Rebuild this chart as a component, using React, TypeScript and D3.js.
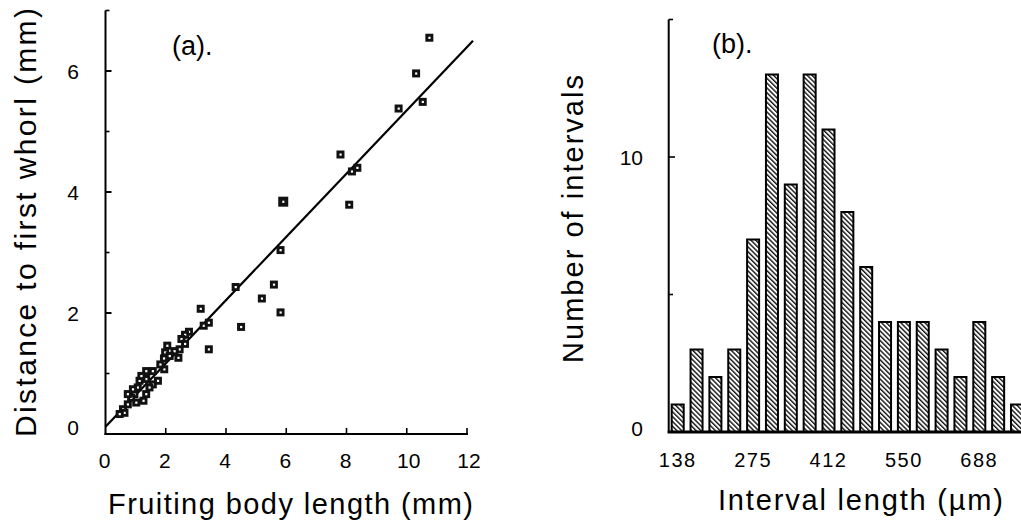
import React from "react";
import * as d3 from "d3";

// ---------- Panel (a) data ----------
const fruitingLength = [10.75, 10.31, 10.53, 9.73, 7.8, 8.18, 8.36, 8.09, 5.9, 5.81, 4.32, 5.59, 5.19, 5.81, 4.5, 3.16, 3.43, 3.26, 3.43, 2.77, 2.64, 2.52, 2.64, 2.46, 2.42, 2.29, 2.05, 1.98, 2.13, 1.94, 1.95, 1.82, 1.74, 1.57, 1.57, 1.35, 1.35, 1.35, 1.26, 1.13, 1.07, 1.02, 0.96, 0.85, 0.74, 0.74, 0.58, 0.63, 0.47, 1.19, 0.91, 1.46];
const whorlDistance = [6.55, 5.96, 5.49, 5.38, 4.62, 4.34, 4.4, 3.79, 3.84, 3.04, 2.43, 2.47, 2.24, 2.01, 1.77, 2.07, 1.4, 1.79, 1.84, 1.69, 1.64, 1.57, 1.49, 1.4, 1.26, 1.37, 1.46, 1.35, 1.29, 1.25, 1.07, 1.15, 0.88, 1.04, 0.82, 1.04, 0.91, 0.66, 0.55, 0.88, 0.77, 0.52, 0.66, 0.6, 0.66, 0.49, 0.41, 0.35, 0.33, 0.96, 0.74, 0.77];
const largeMarkers = [8];
const fitX = [0, 12.2];
const fitY = [0.12, 6.5];
const aXTicks = [0, 2, 4, 6, 8, 10, 12];
const aYTicks = [0, 2, 4, 6];
const aYMinor = [1, 3, 5, 7];

// ---------- Panel (b) data ----------
const intervalCounts = [1, 3, 2, 3, 7, 13, 9, 13, 11, 8, 6, 4, 4, 4, 3, 2, 4, 2, 1];
const binLabelIndex = [0, 4, 8, 12, 16];
const binLabels = ["138", "275", "412", "550", "688"];
const bYTicks = [0, 10];
const bYMinor = [5, 15];

const FONT = "'Liberation Sans', Arial, Helvetica, sans-serif";

export default function App() {
  // Panel (a) scales
  const ax = d3.scaleLinear().domain([0, 12]).range([105.5, 467]);
  const ay = d3.scaleLinear().domain([0, 7]).range([434, 10.5]);
  const fitLine = d3
    .line<number>()
    .x((d, i) => ax(fitX[i]))
    .y((d) => ay(d));

  // Panel (b) scales
  const idx = intervalCounts.map((_, i) => i);
  const bx = d3
    .scaleBand<number>()
    .domain(idx)
    .range([671.7, 1023])
    .paddingInner(0.363)
    .paddingOuter(0);
  const by = d3.scaleLinear().domain([0, 15]).range([432, 19.5]);

  return (
    <svg
      width={1021}
      height={524}
      style={{ position: "absolute", left: 0, top: 0, background: "#fff" }}
      fontFamily={FONT}
    >
      <defs>
        <pattern
          id="hatch"
          patternUnits="userSpaceOnUse"
          width={3.4}
          height={3.4}
          patternTransform="rotate(-45)"
        >
          <rect width={3.4} height={3.4} fill="#fff" />
          <line x1={0.7} y1={0} x2={0.7} y2={3.4} stroke="#111" strokeWidth={1.4} />
        </pattern>
        <clipPath id="pageClip">
          <rect x={0} y={0} width={1021} height={524} />
        </clipPath>
      </defs>

      {/* ================= Panel (a) ================= */}
      <g>
        <line x1={ax(0)} y1={ay(7)} x2={ax(0)} y2={ay(0) + 1} stroke="#000" strokeWidth={2} />
        <line x1={ax(0) - 1} y1={ay(0)} x2={ax(12) + 1} y2={ay(0)} stroke="#000" strokeWidth={2} />
        {aYTicks.map((t) => (
          <g key={"ay" + t}>
            {t > 0 && (
              <line x1={ax(0)} x2={ax(0) + 6} y1={ay(t)} y2={ay(t)} stroke="#000" strokeWidth={2} />
            )}
            <text
              x={79}
              y={ay(t) - (t === 0 ? 7 : 0)}
              dy="0.36em"
              textAnchor="end"
              fontSize={21}
              fill="#000"
            >
              {t}
            </text>
          </g>
        ))}
        {aYMinor.map((t) => (
          <line key={"aym" + t} x1={ax(0)} x2={ax(0) + 4} y1={ay(t)} y2={ay(t)} stroke="#000" strokeWidth={1.6} />
        ))}
        {aXTicks.map((t) => (
          <g key={"ax" + t}>
            {t > 0 && (
              <line x1={ax(t)} x2={ax(t)} y1={ay(0)} y2={ay(0) - 6} stroke="#000" strokeWidth={1.6} />
            )}
            <text x={ax(t) + (t >= 10 ? 2 : -1)} y={468} textAnchor="middle" fontSize={21} fill="#000">
              {t}
            </text>
          </g>
        ))}

        <path d={fitLine(fitY) || ""} fill="none" stroke="#000" strokeWidth={2.2} />

        {fruitingLength.map((xv, i) => {
          const s = largeMarkers.includes(i) ? 10 : 8;
          const cx = ax(xv);
          const cy = ay(whorlDistance[i]);
          return (
            <g key={"p" + i}>
              <rect x={cx - s / 2} y={cy - s / 2} width={s} height={s} fill="#111" />
              <rect x={cx - 1} y={cy - 1} width={2.2} height={2.2} fill="#fff" />
            </g>
          );
        })}

        <text x={172} y={55} fontSize={27} fill="#000">
          (a).
        </text>
        <text
          transform={`translate(36,${222.5}) rotate(-90)`}
          textAnchor="middle"
          fontSize={30}
          textLength={429}
          lengthAdjust="spacing"
          fill="#000"
        >
          Distance to first whorl (mm)
        </text>
        <text x={108} y={514} fontSize={29} textLength={365} lengthAdjust="spacing" fill="#000">
          Fruiting body length (mm)
        </text>
      </g>

      {/* ================= Panel (b) ================= */}
      <g clipPath="url(#pageClip)">
        {intervalCounts.map((c, i) => (
          <rect
            key={"b" + i}
            x={bx(i)!}
            y={by(c)}
            width={bx.bandwidth()}
            height={by(0) - by(c)}
            fill="url(#hatch)"
            stroke="#000"
            strokeWidth={2}
          />
        ))}
        <line x1={bx.range()[0] - 3} y1={by(15)} x2={bx.range()[0] - 3} y2={by(0) + 1} stroke="#000" strokeWidth={2} />
        <line x1={bx.range()[0] - 4} y1={by(0)} x2={1021} y2={by(0)} stroke="#000" strokeWidth={3} />
        {bYTicks.map((t) => (
          <g key={"by" + t}>
            {t > 0 && (
              <line x1={668.7} x2={675} y1={by(t)} y2={by(t)} stroke="#000" strokeWidth={1.6} />
            )}
            <text x={643} y={by(t) - (t === 0 ? 4 : 0)} dy="0.36em" textAnchor="end" fontSize={21} fill="#000">
              {t}
            </text>
          </g>
        ))}
        {bYMinor.map((t) => (
          <line key={"bym" + t} x1={668.7} x2={673} y1={by(t)} y2={by(t)} stroke="#000" strokeWidth={1.6} />
        ))}
        {binLabelIndex.map((bi, k) => (
          <text
            key={"bl" + k}
            x={bx(bi)! + bx.bandwidth() / 2}
            y={467}
            textAnchor="middle"
            fontSize={20}
            letterSpacing={1.5}
            fill="#000"
          >
            {binLabels[k]}
          </text>
        ))}
        <text x={712} y={53} fontSize={27} fill="#000">
          (b).
        </text>
        <text
          transform={`translate(583,${219}) rotate(-90)`}
          textAnchor="middle"
          fontSize={29}
          textLength={288}
          lengthAdjust="spacing"
          fill="#000"
        >
          Number of intervals
        </text>
        <text x={718} y={510} fontSize={29} textLength={285} lengthAdjust="spacing" fill="#000">
          Interval length (µm)
        </text>
      </g>
    </svg>
  );
}
